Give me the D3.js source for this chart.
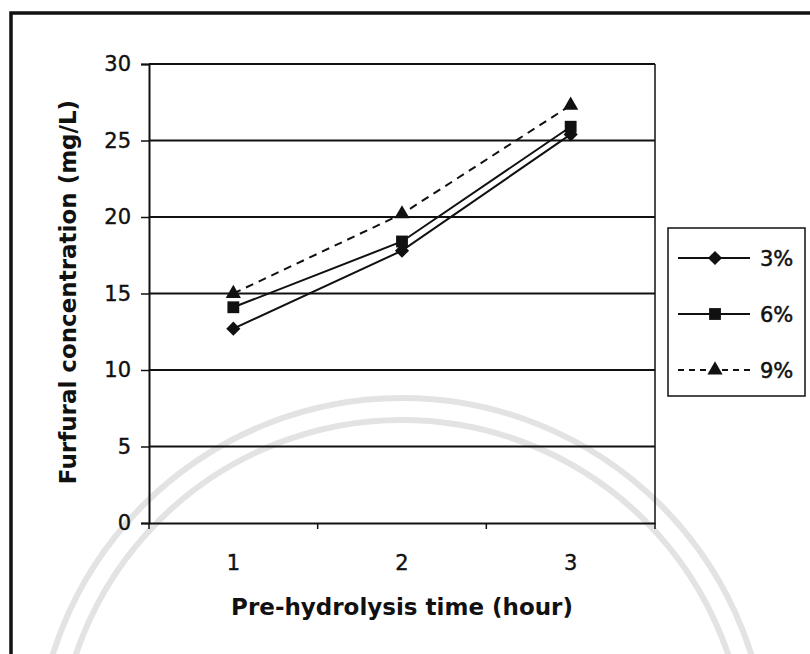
<html>
<head>
	<title>Furfural concentration</title>
	<script src="https://d3js.org/d3.v7.min.js" charset="utf-8"></script>
    <style type="text/css">
        body { margin: 0; background: #fff; }
        text { font-family: "DejaVu Sans", Arial, sans-serif; fill: #111; }
    </style>
</head>
<body>
	<div id="chart"></div>
	<script>
        // data
        var hours = ['1', '2', '3'];
        var seriesNames = ['3%', '6%', '9%'];
        var conc3 = [12.7, 17.8, 25.4];
        var conc6 = [14.1, 18.4, 25.9];
        var conc9 = [15.0, 20.2, 27.3];
        var yTicks = [0, 5, 10, 15, 20, 25, 30];

        var series = [
            {name: seriesNames[0], values: conc3, marker: d3.symbolSquare, size: 100, rot: 45, dash: null},
            {name: seriesNames[1], values: conc6, marker: d3.symbolSquare, size: 140, rot: 0, dash: null},
            {name: seriesNames[2], values: conc9, marker: d3.symbolTriangle, size: 100, rot: 0, dash: '8,6'}
        ];

        var margin = {top: 64, left: 149, right: 155, bottom: 131};
        var W = 810, H = 654;
        var width = W - margin.left - margin.right;
        var height = H - margin.top - margin.bottom;
        var font = '"DejaVu Sans", Arial, sans-serif';

        var svg = d3.select('#chart').append('svg')
            .attr('width', W)
            .attr('height', H);

        // faint watermark arcs
        var wm = svg.append('g');
        [366, 344].forEach(function(r) {
            wm.append('circle')
                .attr('cx', 402).attr('cy', 764).attr('r', r)
                .style('fill', 'none').style('stroke', '#e3e3e3').style('stroke-width', 6);
        });

        // outer frame
        svg.append('path')
            .attr('d', 'M11,654 L11,13 L810,13')
            .style('fill', 'none').style('stroke', '#111').style('stroke-width', 3.5);

        var g = svg.append('g')
            .attr('transform', 'translate(' + margin.left + ',' + margin.top + ')');

        var xScale = d3.scaleBand().domain(hours).range([0, width]);
        var yScale = d3.scaleLinear().domain([0, 30]).range([height, 0]);

        // gridlines
        g.selectAll('.grid').data(yTicks.slice(1)).enter().append('line')
            .attr('x1', 0).attr('x2', width)
            .attr('y1', function(d) { return yScale(d); })
            .attr('y2', function(d) { return yScale(d); })
            .style('stroke', '#111').style('stroke-width', 1.8);

        // right border of plot area
        g.append('line')
            .attr('x1', width).attr('x2', width).attr('y1', 0).attr('y2', height)
            .style('stroke', '#111').style('stroke-width', 1.5);

        // y axis
        var yAxis = d3.axisLeft(yScale).tickValues(yTicks).tickSize(8).tickPadding(10);
        var yG = g.append('g').call(yAxis);
        yG.selectAll('path').style('stroke', '#111').style('stroke-width', 2);
        yG.selectAll('line').style('stroke', '#111').style('stroke-width', 1.5);
        yG.selectAll('text').style('font-size', '21px').style('font-family', font)
            .style('fill', '#111').style('stroke', '#111').style('stroke-width', 0.4);

        // x axis, ticks at band boundaries, labels at centers
        var xAxis = d3.axisBottom(xScale).tickSize(0).tickPadding(32);
        var xG = g.append('g').attr('transform', 'translate(0,' + height + ')').call(xAxis);
        xG.selectAll('path').style('stroke', '#111').style('stroke-width', 2);
        xG.selectAll('text').style('font-size', '21px').style('font-family', font)
            .style('fill', '#111').style('stroke', '#111').style('stroke-width', 0.4);
        var bounds = hours.map(function(h) { return xScale(h); }).concat([width]);
        xG.selectAll('.bt').data(bounds).enter().append('line')
            .attr('x1', function(d) { return d; }).attr('x2', function(d) { return d; })
            .attr('y1', 0).attr('y2', 6)
            .style('stroke', '#111').style('stroke-width', 1.5);

        // axis titles
        svg.append('text')
            .attr('x', margin.left + width / 2).attr('y', 615)
            .attr('text-anchor', 'middle')
            .style('font-size', '23px').style('font-weight', 'bold')
            .text('Pre-hydrolysis time (hour)');
        svg.append('text')
            .attr('transform', 'translate(76,' + 292 + ') rotate(-90)')
            .attr('text-anchor', 'middle')
            .style('font-size', '23px').style('font-weight', 'bold')
            .text('Furfural concentration (mg/L)');

        // lines and markers
        var line = d3.line()
            .x(function(d, i) { return xScale(hours[i]) + xScale.bandwidth() / 2; })
            .y(function(d) { return yScale(d); });

        series.forEach(function(s) {
            g.append('path')
                .datum(s.values)
                .attr('d', line)
                .style('fill', 'none').style('stroke', '#111').style('stroke-width', 2)
                .style('stroke-dasharray', s.dash);
            g.selectAll(null).data(s.values).enter().append('path')
                .attr('d', d3.symbol().type(s.marker).size(s.size))
                .attr('transform', function(d, i) {
                    return 'translate(' + (xScale(hours[i]) + xScale.bandwidth() / 2) + ',' + yScale(d) + ') rotate(' + s.rot + ')';
                })
                .style('fill', '#111');
        });

        // legend
        var leg = svg.append('g').attr('transform', 'translate(668,228)');
        leg.append('rect')
            .attr('width', 137).attr('height', 168)
            .style('fill', '#fff').style('stroke', '#111').style('stroke-width', 1.5);
        var legY = d3.scalePoint().domain(seriesNames).range([30, 142]);
        series.forEach(function(s) {
            var y = legY(s.name);
            leg.append('line')
                .attr('x1', 10).attr('x2', 82).attr('y1', y).attr('y2', y)
                .style('stroke', '#111').style('stroke-width', 2)
                .style('stroke-dasharray', s.dash ? '6,5' : null);
            leg.append('path')
                .attr('d', d3.symbol().type(s.marker).size(s.size))
                .attr('transform', 'translate(47,' + y + ') rotate(' + s.rot + ')')
                .style('fill', '#111');
            leg.append('text')
                .attr('x', 92).attr('y', y + 8)
                .style('font-size', '21px')
                .style('stroke', '#111').style('stroke-width', 0.5)
                .text(s.name);
        });
	</script>
</body>
</html>
